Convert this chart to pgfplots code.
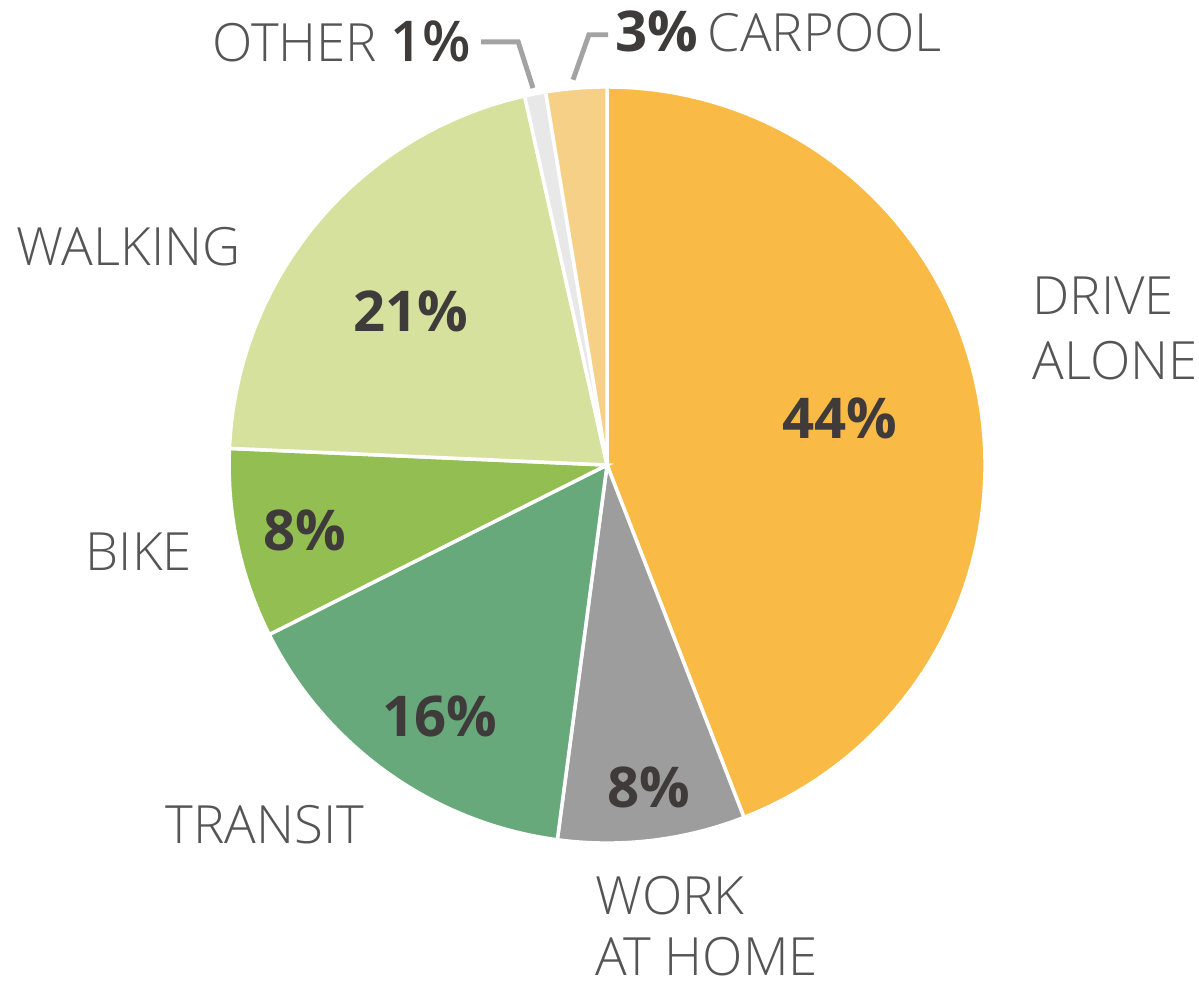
\documentclass[border=0pt]{standalone}
\usepackage{fontspec}
\setmainfont{Open Sans}
\IfFontExistsTF{Open Sans Light}{\newfontfamily\lightfont{Open Sans Light}}{\newcommand{\lightfont}{}}
\usepackage{pgfplots}
\pgfplotsset{compat=1.18}
\definecolor{cdrive}{HTML}{F9BB45}
\definecolor{chome}{HTML}{9D9D9D}
\definecolor{ctransit}{HTML}{68A97C}
\definecolor{cbike}{HTML}{93BF52}
\definecolor{cwalk}{HTML}{D6E19D}
\definecolor{cother}{HTML}{E8E8E8}
\definecolor{ccarpool}{HTML}{F6D087}
\definecolor{labelink}{HTML}{555555}
\definecolor{pctink}{HTML}{3F3B3B}
\definecolor{leader}{HTML}{A3A3A3}
\newcommand{\lab}{\fontsize{15}{17}\lightfont\selectfont\color{labelink}}
\newcommand{\pct}{\fontsize{16}{18}\selectfont\bfseries\color{pctink}}
\begin{document}
\begin{tikzpicture}
\begin{axis}[
  width=11.99cm, height=9.83cm, scale only axis,
  xmin=-1.606, xmax=1.566, ymin=-1.370, ymax=1.230,
  hide axis, clip=false]
% shares in percent, clockwise from 12 o'clock
\pgfmathsetmacro{\angA}{90}
\foreach \v/\c in {44.1/cdrive, 8.0/chome, 15.5/ctransit, 8.1/cbike, 20.8/cwalk, 0.9/cother, 2.6/ccarpool}{
  \pgfmathsetmacro{\angB}{\angA-3.6*\v}
  \edef\mywedge{\noexpand\addplot[fill=\c, draw=white, line width=1pt, domain=\angB:\angA, samples=90]
    ({cos(x)},{sin(x)}) -- (axis cs:0,0) -- cycle;}
  \mywedge
  \global\let\angA\angB
}
% leader lines
\addplot[leader, line width=1.4pt] coordinates {(-0.333,1.119) (-0.235,1.119) (-0.196,0.997)};
\addplot[leader, line width=1.4pt] coordinates {(0.003,1.138) (-0.048,1.138) (-0.090,1.019)};
% slice labels
\node[anchor=base west, inner sep=0pt] at (axis cs:-1.563,0.529) {\lab WALKING};
\node[anchor=base west, inner sep=0pt] at (axis cs:1.124,0.397) {\lab DRIVE};
\node[anchor=base west, inner sep=0pt] at (axis cs:1.124,0.225) {\lab ALONE};
\node[anchor=base west, inner sep=0pt] at (axis cs:-1.381,-0.278) {\lab BIKE};
\node[anchor=base west, inner sep=0pt] at (axis cs:-1.169,-1.0) {\lab TRANSIT};
\node[anchor=base west, inner sep=0pt] at (axis cs:-0.032,-1.190) {\lab WORK};
\node[anchor=base west, inner sep=0pt] at (axis cs:-0.032,-1.349) {\lab AT HOME};
\node[anchor=base east, inner sep=0pt] at (axis cs:-0.357,1.066) {\lab OTHER {\pct 1\%}};
\node[anchor=base west, inner sep=0pt] at (axis cs:0.021,1.093) {{\pct 3\%} \lab CARPOOL};
% percentages
\node at (axis cs:0.616,0.124) {\pct 44\%};
\node at (axis cs:-0.519,0.405) {\pct 21\%};
\node at (axis cs:-0.799,-0.172) {\pct 8\%};
\node at (axis cs:-0.442,-0.664) {\pct 16\%};
\node at (axis cs:0.111,-0.852) {\pct 8\%};
\end{axis}
\pgfresetboundingbox
\path (current axis.south west) rectangle (current axis.north east);
\end{tikzpicture}
\end{document}
